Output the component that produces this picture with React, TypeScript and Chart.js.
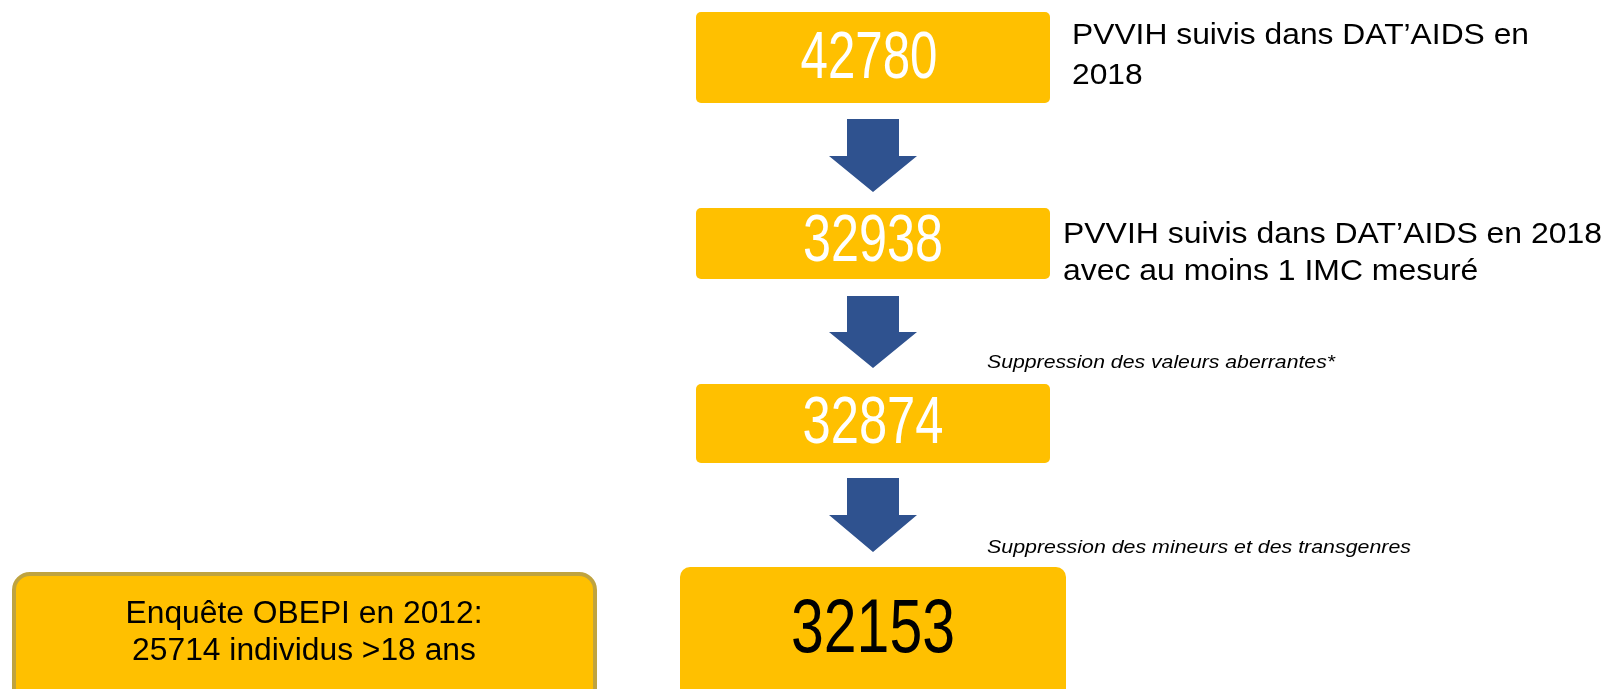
import React, { useEffect, useRef } from "react";
import { Chart, registerables } from "chart.js";

Chart.register(...registerables);

// ---- data ----
const stepCounts = [42780, 32938, 32874, 32153];
const stepDescriptions: string[][] = [
  ["PVVIH suivis dans DAT’AIDS en", "2018"],
  ["PVVIH suivis dans DAT’AIDS en 2018", "avec au moins 1 IMC mesuré"],
];
const exclusionNotes = [
  "",
  "Suppression des valeurs aberrantes*",
  "Suppression des mineurs et des transgenres",
];
const referenceLines = ["Enquête OBEPI en 2012:", "25714 individus >18 ans"];

// ---- layout (page pixels) ----
const W = 1607;
const H = 689;
const boxLayout = [
  { x0: 696, x1: 1050, y0: 12, y1: 103, r: 5, size: 66, tw: 137, base: 78, cx: 869, color: "#FFFFFF" },
  { x0: 696, x1: 1050, y0: 208, y1: 279, r: 5, size: 66, tw: 140, base: 261, cx: 873, color: "#FFFFFF" },
  { x0: 696, x1: 1050, y0: 384, y1: 463, r: 5, size: 66, tw: 141, base: 443, cx: 873, color: "#FFFFFF" },
  { x0: 680, x1: 1066, y0: 567, y1: 700, r: 10, size: 76, tw: 164, base: 652, cx: 873, color: "#000000" },
];
const arrowLayout = [
  { top: 119, neck: 156, tip: 192 },
  { top: 296, neck: 332, tip: 368 },
  { top: 478, neck: 515, tip: 552 },
];
const descLayout = [
  { x: 1072, bases: [44, 84], tw: 457 },
  { x: 1063, bases: [243, 280], tw: 539 },
];
const noteLayout = [null, { x: 987, base: 368, tw: 348 }, { x: 987, base: 553, tw: 424 }];

const YELLOW = "#FFC000";
const BLUE = "#2F528F";
const SANS = "'Liberation Sans', Arial, sans-serif";
const NARROW = "'Liberation Sans Narrow', 'Liberation Sans', Arial, sans-serif";

function rr(ctx: CanvasRenderingContext2D, x: number, y: number, w: number, h: number, r: number) {
  ctx.beginPath();
  ctx.moveTo(x + r, y);
  ctx.lineTo(x + w - r, y);
  ctx.arcTo(x + w, y, x + w, y + r, r);
  ctx.lineTo(x + w, y + h - r);
  ctx.arcTo(x + w, y + h, x + w - r, y + h, r);
  ctx.lineTo(x + r, y + h);
  ctx.arcTo(x, y + h, x, y + h - r, r);
  ctx.lineTo(x, y + r);
  ctx.arcTo(x, y, x + r, y, r);
  ctx.closePath();
}

function drawScaled(
  ctx: CanvasRenderingContext2D,
  text: string,
  x: number,
  base: number,
  font: string,
  sx: number,
  align: "left" | "center",
  color: string
) {
  ctx.save();
  ctx.font = font;
  ctx.fillStyle = color;
  ctx.textBaseline = "alphabetic";
  ctx.textAlign = align;
  ctx.translate(x, base);
  ctx.scale(sx, 1);
  ctx.fillText(text, 0, 0);
  ctx.restore();
}

function scaleFor(ctx: CanvasRenderingContext2D, text: string, font: string, target: number) {
  ctx.save();
  ctx.font = font;
  const w = ctx.measureText(text).width;
  ctx.restore();
  return w > 0 ? target / w : 1;
}

const flowPlugin = {
  id: "flowDiagram",
  afterDraw(chart: any) {
    const ctx: CanvasRenderingContext2D = chart.ctx;
    const xs = chart.scales.x;
    const ys = chart.scales.y;
    const px = (v: number) => xs.getPixelForValue(v);
    const py = (v: number) => ys.getPixelForValue(v);

    // count boxes
    stepCounts.forEach((count, i) => {
      const b = boxLayout[i];
      ctx.save();
      ctx.fillStyle = YELLOW;
      rr(ctx, px(b.x0), py(b.y0), px(b.x1) - px(b.x0), py(b.y1) - py(b.y0), b.r);
      ctx.fill();
      ctx.restore();
      const font = `${b.size}px ${NARROW}`;
      const label = String(count);
      const sx = scaleFor(ctx, label, font, b.tw);
      drawScaled(ctx, label, px(b.cx), py(b.base), font, sx, "center", b.color);
    });

    // arrows
    arrowLayout.forEach((a) => {
      const cx = 873;
      ctx.save();
      ctx.fillStyle = BLUE;
      ctx.beginPath();
      ctx.moveTo(px(cx - 26), py(a.top));
      ctx.lineTo(px(cx + 26), py(a.top));
      ctx.lineTo(px(cx + 26), py(a.neck));
      ctx.lineTo(px(cx + 44), py(a.neck));
      ctx.lineTo(px(cx), py(a.tip));
      ctx.lineTo(px(cx - 44), py(a.neck));
      ctx.lineTo(px(cx - 26), py(a.neck));
      ctx.closePath();
      ctx.fill();
      ctx.restore();
    });

    // descriptions
    stepDescriptions.forEach((lines, i) => {
      const d = descLayout[i];
      const font = `30px ${SANS}`;
      const sx = scaleFor(ctx, lines[0], font, d.tw);
      lines.forEach((ln, j) => drawScaled(ctx, ln, px(d.x), py(d.bases[j]), font, sx, "left", "#000000"));
    });

    // exclusion notes
    exclusionNotes.forEach((note, i) => {
      const n = noteLayout[i];
      if (!note || !n) return;
      const font = `italic 18px ${SANS}`;
      const sx = scaleFor(ctx, note, font, n.tw);
      drawScaled(ctx, note, px(n.x), py(n.base), font, sx, "left", "#000000");
    });

    // reference box
    ctx.save();
    ctx.fillStyle = YELLOW;
    ctx.strokeStyle = "#BFA33F";
    ctx.lineWidth = 4;
    rr(ctx, px(14), py(574), px(595) - px(14), py(720) - py(574), 16);
    ctx.fill();
    ctx.stroke();
    ctx.restore();
    const rfont = `31px ${SANS}`;
    const rsx = scaleFor(ctx, referenceLines[0], rfont, 357);
    const rbases = [623, 660];
    referenceLines.forEach((ln, j) => drawScaled(ctx, ln, px(304), py(rbases[j]), rfont, rsx, "center", "#000000"));
  },
};

export default function App() {
  const ref = useRef<HTMLCanvasElement | null>(null);
  useEffect(() => {
    if (!ref.current) return;
    const chart = new Chart(ref.current, {
      type: "scatter",
      data: { datasets: [{ label: "effectifs", data: [] }] },
      options: {
        animation: false,
        responsive: false,
        devicePixelRatio: 1,
        layout: { padding: 0 },
        plugins: { legend: { display: false }, tooltip: { enabled: false } },
        scales: {
          x: { type: "linear", min: 0, max: W, display: false },
          y: { type: "linear", min: 0, max: H, reverse: true, display: false },
        },
      },
      plugins: [flowPlugin],
    });
    return () => chart.destroy();
  }, []);
  return (
    <div style={{ position: "fixed", left: 0, top: 0, width: W, height: H, background: "#FFFFFF" }}>
      <canvas ref={ref} width={W} height={H} style={{ display: "block", width: W, height: H }} />
    </div>
  );
}
